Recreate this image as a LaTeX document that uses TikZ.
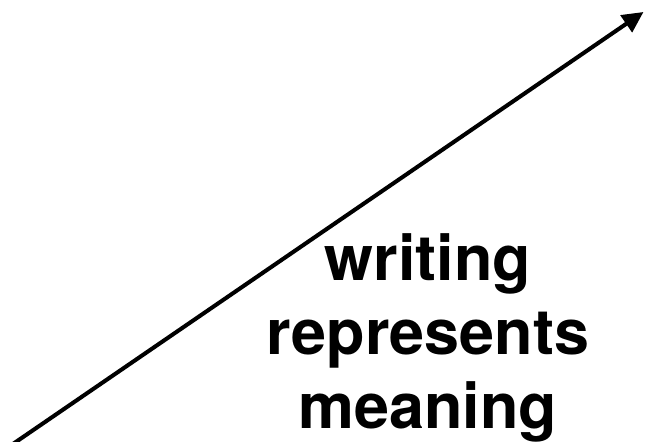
\documentclass[tikz,border=0pt]{standalone}
\usepackage{fontspec}
\setmainfont{TeX Gyre Heros}
\usetikzlibrary{arrows.meta}

\begin{document}
\begin{tikzpicture}[
    axisline/.style={line width=2.3pt, -{Triangle[length=0.42cm, width=0.40cm]}},
    caption/.style={font=\bfseries\fontsize{35.8pt}{42.2pt}\selectfont, align=center, inner sep=0pt},
]
% frame of the picture (645 x 442 px, 1px = 0.02cm)
\useasboundingbox (0,0) rectangle (12.9,8.84);
\clip (0,0) rectangle (12.9,8.84);

% the rising arrow
\coordinate (start) at (0.2,-0.08);
\coordinate (tip) at (12.87,8.6);
\draw[axisline] (start) -- (tip);

% label
\node[caption, anchor=north] (label) at (8.56,4.18) {writing\\represents\\meaning};
\end{tikzpicture}
\end{document}
